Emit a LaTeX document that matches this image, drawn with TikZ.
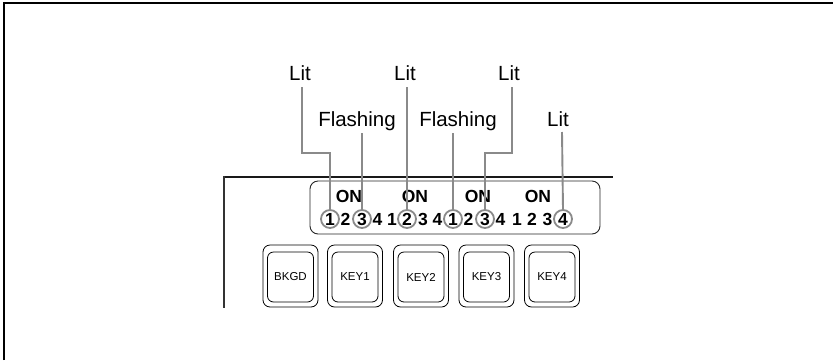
\documentclass[tikz,border=0pt]{standalone}
\usepackage{fontspec}
\setmainfont{Liberation Sans}
\definecolor{leadgray}{HTML}{8A8A8A}
\begin{document}
\begin{tikzpicture}[x=1pt,y=-1pt,
  lbl/.style={font=\fontsize{20.5}{20.5}\selectfont, inner sep=0pt},
  ontxt/.style={font=\fontsize{17.5}{17.5}\selectfont\bfseries, inner sep=0pt},
  dig/.style={font=\fontsize{17.5}{17.5}\selectfont\bfseries, inner sep=0pt},
  cdig/.style={dig, circle, draw=leadgray, line width=1.8pt, minimum size=18pt},
  lead/.style={draw=leadgray, line width=1.9pt},
  btnout/.style={draw, rounded corners=7pt, line width=0.8pt, minimum width=55pt, minimum height=62pt, inner sep=0pt},
  btnin/.style={draw, rounded corners=6pt, line width=0.8pt, minimum width=46pt, minimum height=50pt, inner sep=0pt, font=\fontsize{11.5}{11.5}\selectfont}]
\useasboundingbox (0,0) rectangle (833,360);
% outer frame
\draw[line width=2pt] (4,360) -- (4,2.5) -- (833,2.5);
% panel
\draw[line width=2.5pt, black!90] (223,177) -- (613,177);
\draw[line width=2pt, black!80] (224,176) -- (224,308);
\draw[line width=0.9pt, black!85, rounded corners=8pt] (310,181) rectangle (600,234);
% ON texts
\node[ontxt] (on1) at (349,196) {ON};
\node[ontxt] (on2) at (415,196) {ON};
\node[ontxt] (on3) at (478,196) {ON};
\node[ontxt] (on4) at (538,196) {ON};
% digits
\node[cdig] (c1) at (330,219) {1};
\node[dig] (d2) at (345.5,219) {2};
\node[cdig] (c3) at (362,219) {3};
\node[dig] (d4) at (377.5,219) {4};
\node[dig] (e1) at (392,219) {1};
\node[cdig] (e2) at (407,219) {2};
\node[dig] (e3) at (423,219) {3};
\node[dig] (e4) at (437.5,219) {4};
\node[cdig] (f1) at (453,219) {1};
\node[dig] (f2) at (468.5,219) {2};
\node[cdig] (f3) at (485,219) {3};
\node[dig] (f4) at (500.5,219) {4};
\node[dig] (g1) at (517,219) {1};
\node[dig] (g2) at (532,219) {2};
\node[dig] (g3) at (547.5,219) {3};
\node[cdig] (g4) at (563,219) {4};
% labels
\node[lbl, anchor=base] (lit1) at (300,80) {Lit};
\node[lbl, anchor=base] (lit2) at (405,80) {Lit};
\node[lbl, anchor=base] (lit3) at (509,80) {Lit};
\node[lbl, anchor=base] (fl1) at (357,126) {Flashing};
\node[lbl, anchor=base] (fl2) at (458,126) {Flashing};
\node[lbl, anchor=base] (lit4) at (558,126) {Lit};
% leader start points
\coordinate (s1) at (302,87);
\coordinate (s2) at (362,133);
\coordinate (s3) at (407,87);
\coordinate (s4) at (453,133);
\coordinate (s5) at (512,87);
\coordinate (s6) at (562,132);
\draw[lead] (s1) -- (302,153) -- (330,153) -- (c1.north);
\draw[lead] (s2) -- (c3.north);
\draw[lead] (s3) -- (e2.north);
\draw[lead] (s4) -- (f1.north);
\draw[lead] (s5) -- (512,153) -- (485,153) -- (f3.north);
\draw[lead] (s6) -- (g4.north);
% buttons
\node[btnout] (b1) at (290.5,276) {};
\node[btnout] (b2) at (355,276) {};
\node[btnout] (b3) at (421,276) {};
\node[btnout] (b4) at (486.5,276) {};
\node[btnout] (b5) at (552,276) {};
\node[btnin] (k1) at ([yshift=-1pt]b1.center) {BKGD};
\node[btnin] (k2) at ([yshift=-1pt]b2.center) {KEY1};
\node[btnin] (k3) at ([yshift=-1pt]b3.center) {KEY2};
\node[btnin] (k4) at ([yshift=-1pt]b4.center) {KEY3};
\node[btnin] (k5) at ([yshift=-1pt]b5.center) {KEY4};
\end{tikzpicture}
\end{document}
